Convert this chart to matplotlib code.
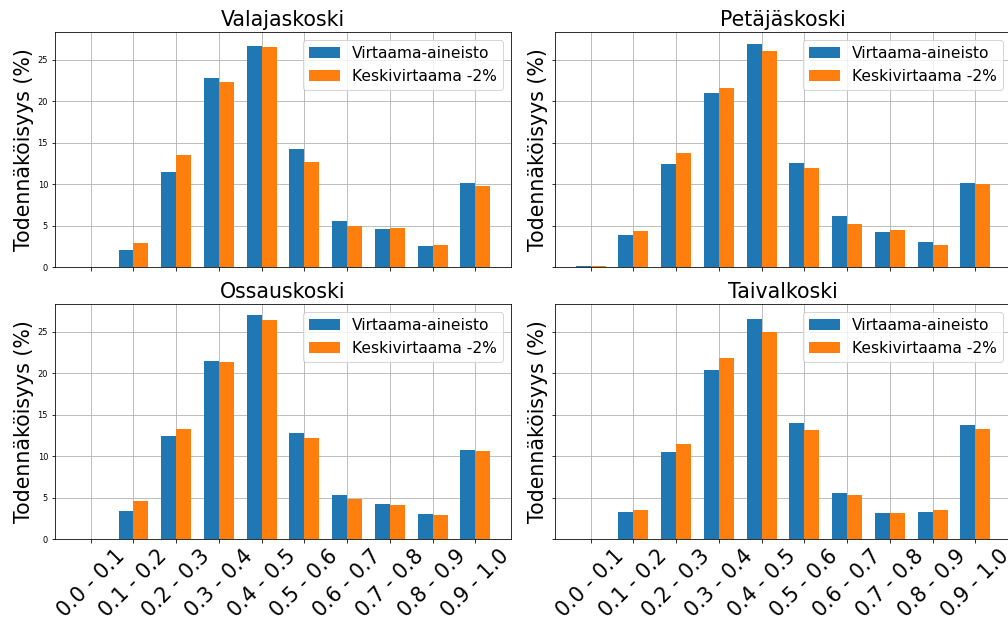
import numpy as np
import matplotlib
matplotlib.use("Agg")
import matplotlib.pyplot as plt

classes = ["0.0 - 0.1", "0.1 - 0.2", "0.2 - 0.3", "0.3 - 0.4", "0.4 - 0.5",
           "0.5 - 0.6", "0.6 - 0.7", "0.7 - 0.8", "0.8 - 0.9", "0.9 - 1.0"]
series_names = ["Virtaama-aineisto", "Keskivirtaama -2%"]

valajaskoski_obs = [0.0, 2.09, 11.5, 22.75, 26.65, 14.23, 5.59, 4.62, 2.53, 10.17]
valajaskoski_sim = [0.0, 2.85, 13.46, 22.27, 26.53, 12.62, 4.98, 4.66, 2.61, 9.73]

petajaskoski_obs = [0.08, 3.9, 12.42, 20.94, 26.93, 12.5, 6.19, 4.22, 2.97, 10.17]
petajaskoski_sim = [0.16, 4.3, 13.7, 21.62, 26.08, 11.9, 5.14, 4.46, 2.61, 9.97]

ossauskoski_obs = [0.0, 3.37, 12.4, 21.43, 26.97, 12.8, 5.34, 4.21, 2.97, 10.71]
ossauskoski_sim = [0.0, 4.53, 13.28, 21.31, 26.44, 12.2, 4.86, 4.13, 2.89, 10.59]

taivalkoski_obs = [0.0, 3.21, 10.47, 20.35, 26.6, 13.96, 5.58, 3.09, 3.21, 13.72]
taivalkoski_sim = [0.0, 3.53, 11.48, 21.87, 25.0, 13.12, 5.34, 3.09, 3.53, 13.28]

stations = [
    ("Valajaskoski", valajaskoski_obs, valajaskoski_sim),
    ("Petäjäskoski", petajaskoski_obs, petajaskoski_sim),
    ("Ossauskoski", ossauskoski_obs, ossauskoski_sim),
    ("Taivalkoski", taivalkoski_obs, taivalkoski_sim),
]


def draw_station(ax, name, obs, sim, width=0.35):
    x = np.arange(len(classes))
    ax.bar(x - width / 2, obs, width, label=series_names[0], color="tab:blue", zorder=2)
    ax.bar(x + width / 2, sim, width, label=series_names[1], color="tab:orange", zorder=2)
    ax.set_xticks(x)
    ax.set_xticklabels(classes)
    ax.set_title(name, fontsize=20.5)
    ax.set_ylabel("Todennäköisyys (%)", fontsize=20.5)
    ax.tick_params(axis="y", labelsize=8.2)
    ax.grid(True, zorder=0)
    ax.set_axisbelow(True)
    ax.legend(fontsize=15.5, loc="upper right")


def main():
    fig, axes = plt.subplots(2, 2, sharex=True, sharey=True, figsize=(14, 8.625), dpi=72)
    for ax, (name, obs, sim) in zip(axes.flat, stations):
        draw_station(ax, name, obs, sim)

    for ax in axes[1]:
        plt.setp(ax.get_xticklabels(), rotation=45, fontsize=20.5)

    # panel placement in figure fractions
    axes[0, 0].set_position([0.0546, 0.570, 0.4524, 0.378])
    axes[0, 1].set_position([0.5506, 0.570, 0.4524, 0.378])
    axes[1, 0].set_position([0.0546, 0.132, 0.4524, 0.378])
    axes[1, 1].set_position([0.5506, 0.132, 0.4524, 0.378])

    fig.savefig("out.png", dpi=72)


if __name__ == "__main__":
    main()
